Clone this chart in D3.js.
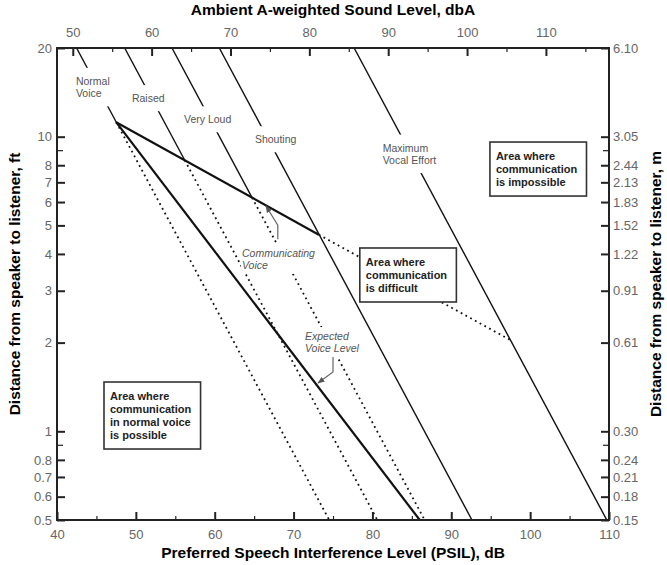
<!DOCTYPE html>
<html>
<head>
<meta charset="utf-8">
<script src="https://cdn.jsdelivr.net/npm/d3@7"></script>
<style>
  body { margin: 0; background: #fff; }
  svg { display: block; font-family: "Liberation Sans", Arial, sans-serif; }
</style>
</head>
<body>
<div id="chart"></div>
<script>
// Voice effort lines: PSIL (dB) at 1 ft, falling 6 dB per doubling of distance
const voiceNames = ["Normal Voice", "Raised", "Very Loud", "Shouting", "Maximum Vocal Effort"];
const voiceAt1ft = [68.5, 74.6, 80.6, 86.6, 103.7];
const voiceDottedBelow = [true, true, true, false, false];
const voiceLabelLines = [["Normal", "Voice"], ["Raised"], ["Very Loud"], ["Shouting"], ["Maximum", "Vocal Effort"]];
const voiceLabelPsil = [42.4, 49.5, 56.1, 65.1, 81.3];
const voiceLabelFt = [15.0, 13.1, 11.1, 9.5, 8.9];

// Communicating voice boundary (upper edge) and expected voice level (lower edge)
const commPsil = [47.5, 73.2, 97.5];
const commFt = [11.2, 4.65, 2.04];
const expPsil = [47.5, 86.0];
const expFt = [11.2, 0.5];

// axis ticks
const psilMajor = [40, 50, 60, 70, 80, 90, 100, 110];
const psilMinor = [45, 55, 65, 75, 85, 95, 105];
const dbaMajor = [50, 60, 70, 80, 90, 100, 110];
const dbaMinor = [55, 65, 75, 85, 95, 105, 115];
const ftTicks = [20, 10, 9, 8, 7, 6, 5, 4, 3, 2, 1, 0.9, 0.8, 0.7, 0.6, 0.5];
const ftLabels = ["20", "10", "", "8", "7", "6", "5", "4", "3", "2", "1", "", "0.8", "0.7", "0.6", "0.5"];
const mLabels = ["6.10", "3.05", "", "2.44", "2.13", "1.83", "1.52", "1.22", "0.91", "0.61", "0.30", "", "0.24", "0.21", "0.18", "0.15"];

// area boxes and italic notes (anchored in data units)
const boxLines = [
  ["Area where", "communication", "is difficult"],
  ["Area where", "communication", "is impossible"],
  ["Area where", "communication", "in normal voice", "is possible"]
];
const boxPsil = [78.4, 94.9, 45.96];
const boxFt = [4.19, 9.59, 1.47];
const noteLines = [["Communicating", "Voice"], ["Expected", "Voice Level"]];
const notePsil = [63.46, 71.45];
const noteFt = [3.91, 2.04];
const leaderPsil = [[68.0, 68.0, 66.5], [75.0, 75.0, 73.1]];
const leaderFt = [[4.49, 5.01, 5.82], [1.787, 1.589, 1.458]];

const width = 667, height = 565;
const margin = {top: 48, right: 58, bottom: 45, left: 57};

const svg = d3.select("#chart").append("svg")
  .attr("width", width)
  .attr("height", height);

const x = d3.scaleLinear().domain([40, 110]).range([margin.left, width - margin.right]);
const xTop = d3.scaleLinear().domain([48, 118]).range(x.range());
const y = d3.scaleLog().domain([20, 0.5]).range([margin.top, height - margin.bottom]);

svg.append("defs").append("clipPath").attr("id", "plot-clip")
  .append("rect")
  .attr("x", margin.left).attr("y", margin.top)
  .attr("width", width - margin.left - margin.right)
  .attr("height", height - margin.top - margin.bottom);

svg.select("defs").append("marker")
  .attr("id", "arrow")
  .attr("viewBox", "0 0 10 10")
  .attr("refX", 9).attr("refY", 5)
  .attr("markerWidth", 6).attr("markerHeight", 6)
  .attr("orient", "auto")
  .append("path")
  .attr("d", "M0,1 L10,5 L0,9 Z")
  .attr("fill", "#555");

const psilAt = (L, ft) => L - 20 * Math.log10(ft);
const lineGen = d3.line().x(d => x(d[0])).y(d => y(d[1]));

// where a voice line crosses the communicating voice boundary
function commBreak(L) {
  for (let i = 0; i < commPsil.length - 1; i++) {
    const ld0 = Math.log10(commFt[i]), ld1 = Math.log10(commFt[i + 1]);
    const k = (ld1 - ld0) / (commPsil[i + 1] - commPsil[i]);
    const ld = (ld0 + (L - commPsil[i]) * k) / (1 + 20 * k);
    const p = L - 20 * ld;
    if (p >= commPsil[i] - 0.05 && p <= commPsil[i + 1]) return Math.pow(10, ld);
  }
  return null;
}

const plot = svg.append("g").attr("clip-path", "url(#plot-clip)");
const [ftTop, ftBottom] = y.domain();

voiceAt1ft.forEach((L, i) => {
  const b = voiceDottedBelow[i] ? commBreak(L) : ftBottom;
  plot.append("path")
    .attr("d", lineGen([[psilAt(L, ftTop), ftTop], [psilAt(L, b), b]]))
    .attr("fill", "none").attr("stroke", "#111").attr("stroke-width", 1.4);
  if (voiceDottedBelow[i]) {
    plot.append("path")
      .attr("d", lineGen([[psilAt(L, b), b], [psilAt(L, ftBottom), ftBottom]]))
      .attr("fill", "none").attr("stroke", "#111").attr("stroke-width", 1.8)
      .attr("stroke-dasharray", "1.8,3.6");
  }
});

const commPts = commPsil.map((p, i) => [p, commFt[i]]);
plot.append("path")
  .attr("d", lineGen(commPts.slice(0, 2)))
  .attr("fill", "none").attr("stroke", "#111").attr("stroke-width", 2.2);
plot.append("path")
  .attr("d", lineGen(commPts.slice(1)))
  .attr("fill", "none").attr("stroke", "#111").attr("stroke-width", 1.8)
  .attr("stroke-dasharray", "1.8,3.6");
plot.append("path")
  .attr("d", lineGen(expPsil.map((p, i) => [p, expFt[i]])))
  .attr("fill", "none").attr("stroke", "#111").attr("stroke-width", 2.2);

// label with a white patch behind it that breaks the line
function gapLabel(lines, px, py, opts) {
  const g = svg.append("g");
  const t = g.append("text")
    .attr("x", px).attr("y", py)
    .attr("font-size", opts.size)
    .attr("font-style", opts.italic ? "italic" : null)
    .attr("fill", opts.color);
  lines.forEach((s, j) => {
    t.append("tspan").attr("x", px).attr("dy", j ? opts.lh : 0).text(s);
  });
  const bb = t.node().getBBox();
  g.insert("rect", "text")
    .attr("x", bb.x - opts.padX).attr("y", bb.y - opts.padY)
    .attr("width", bb.width + 2 * opts.padX).attr("height", bb.height + 2 * opts.padY)
    .attr("fill", "#fff");
}

voiceLabelLines.forEach((lines, i) => {
  gapLabel(lines, x(voiceLabelPsil[i]), y(voiceLabelFt[i]),
    {size: 10.5, lh: 12.5, color: "#555", padX: 3, padY: 7});
});
noteLines.forEach((lines, i) => {
  gapLabel(lines, x(notePsil[i]), y(noteFt[i]),
    {size: 10.5, lh: 12, color: "#555", italic: true, padX: 1, padY: 3});
});

leaderPsil.forEach((ps, i) => {
  svg.append("path")
    .attr("d", lineGen(ps.map((p, j) => [p, leaderFt[i][j]])))
    .attr("fill", "none").attr("stroke", "#666").attr("stroke-width", 1.2)
    .attr("marker-end", "url(#arrow)");
});

// area boxes
boxLines.forEach((lines, i) => {
  const bx = x(boxPsil[i]), by = y(boxFt[i]);
  const g = svg.append("g");
  const t = g.append("text")
    .attr("font-size", 11).attr("font-weight", "bold").attr("fill", "#222");
  lines.forEach((s, j) => {
    t.append("tspan").attr("x", bx + 6).attr("y", by + 18 + j * 13).text(s);
  });
  const bb = t.node().getBBox();
  g.insert("rect", "text")
    .attr("x", bx).attr("y", by)
    .attr("width", bb.width + 15).attr("height", 18 + 13 * (lines.length - 1) + 10)
    .attr("fill", "#fff").attr("stroke", "#333").attr("stroke-width", 1.6);
});

// axes
function styleAxis(g, size) {
  g.select(".domain").remove();
  g.selectAll(".tick line").attr("stroke", "#222").attr("stroke-width", size);
  g.selectAll(".tick text").attr("fill", "#666").attr("font-size", 13)
    .attr("font-family", "'Liberation Sans', Arial, sans-serif");
}

const bottom = height - margin.bottom, right = width - margin.right;

svg.append("g").attr("transform", `translate(0,${bottom})`)
  .call(d3.axisBottom(x).tickValues(psilMajor).tickSize(-8).tickPadding(10).tickFormat(d3.format("d")))
  .call(g => styleAxis(g, 2));
svg.append("g").attr("transform", `translate(0,${bottom})`)
  .call(d3.axisBottom(x).tickValues(psilMinor).tickSize(-4).tickFormat(""))
  .call(g => styleAxis(g, 1.2));

svg.append("g").attr("transform", `translate(0,${margin.top})`)
  .call(d3.axisTop(xTop).tickValues(dbaMajor).tickSize(-8).tickPadding(11).tickFormat(d3.format("d")))
  .call(g => styleAxis(g, 2));
svg.append("g").attr("transform", `translate(0,${margin.top})`)
  .call(d3.axisTop(xTop).tickValues(dbaMinor).tickSize(-4).tickFormat(""))
  .call(g => styleAxis(g, 1.2));

const leftAxis = svg.append("g").attr("transform", `translate(${margin.left},0)`)
  .call(d3.axisLeft(y).tickValues(ftTicks).tickSize(-8).tickPadding(5).tickFormat((d, i) => ftLabels[i]))
  .call(g => styleAxis(g, 2));
const rightAxis = svg.append("g").attr("transform", `translate(${right},0)`)
  .call(d3.axisRight(y).tickValues(ftTicks).tickSize(-8).tickPadding(4).tickFormat((d, i) => mLabels[i]))
  .call(g => styleAxis(g, 2));
leftAxis.selectAll(".tick").filter((d, i) => !ftLabels[i]).select("line").attr("x2", 6).attr("stroke-width", 1.2);
rightAxis.selectAll(".tick").filter((d, i) => !mLabels[i]).select("line").attr("x2", -6).attr("stroke-width", 1.2);

// frame
svg.append("rect")
  .attr("x", margin.left).attr("y", margin.top)
  .attr("width", right - margin.left).attr("height", bottom - margin.top)
  .attr("fill", "none").attr("stroke", "#222").attr("stroke-width", 2);

// axis titles
svg.append("text")
  .attr("x", (margin.left + right) / 2).attr("y", 15)
  .attr("text-anchor", "middle").attr("font-size", 15.5).attr("font-weight", "bold")
  .text("Ambient A-weighted Sound Level, dbA");
svg.append("text")
  .attr("x", (margin.left + right) / 2).attr("y", 558)
  .attr("text-anchor", "middle").attr("font-size", 15.5).attr("font-weight", "bold")
  .text("Preferred Speech Interference Level (PSIL), dB");
svg.append("text")
  .attr("transform", `translate(20,${(margin.top + bottom) / 2}) rotate(-90)`)
  .attr("text-anchor", "middle").attr("font-size", 15.5).attr("font-weight", "bold")
  .text("Distance from speaker to listener, ft");
svg.append("text")
  .attr("transform", `translate(661,${(margin.top + bottom) / 2}) rotate(-90)`)
  .attr("text-anchor", "middle").attr("font-size", 15.5).attr("font-weight", "bold")
  .text("Distance from speaker to listener, m");
</script>
</body>
</html>
